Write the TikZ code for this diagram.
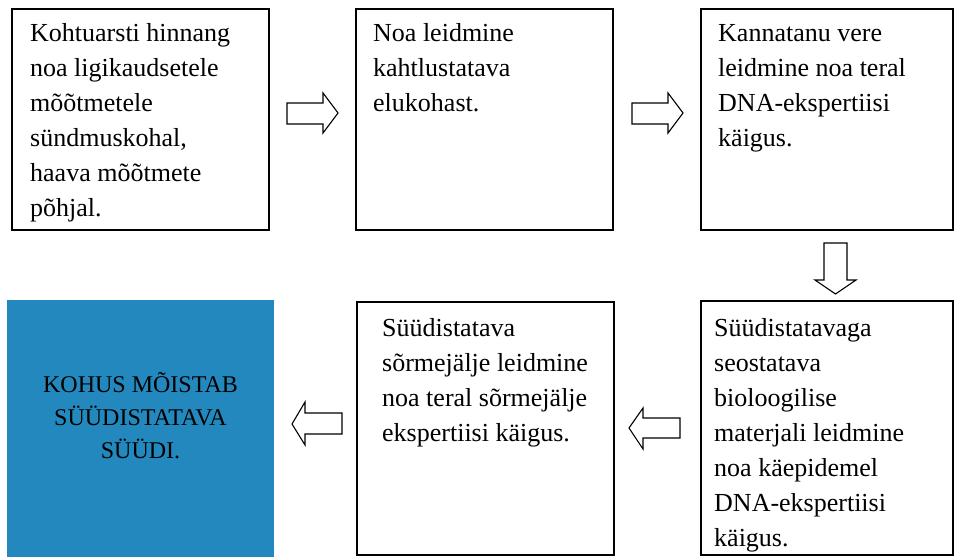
\documentclass[tikz,border=0pt]{standalone}
\usepackage{fontspec}
\setmainfont{Liberation Serif}
\definecolor{verdictblue}{RGB}{35,136,190}
\begin{document}
\begin{tikzpicture}[x=1pt,y=-1pt,
  stepbox/.style={draw=black, line width=1.3pt, inner sep=0pt, outer sep=0pt, anchor=north west},
  steptext/.style={anchor=north west, inner sep=0pt, align=left,
    font=\fontsize{26}{35}\selectfont},
  verdictbox/.style={fill=verdictblue, draw=none, inner sep=0pt, anchor=north west},
  verdicttext/.style={inner sep=0pt, align=center, text=black,
    font=\fontsize{24}{33}\selectfont},
  blockarrow/.style={draw=black, line width=1.1pt, fill=white, line join=miter}]
\useasboundingbox (0,0) rectangle (956,557);
\newcommand{\firstline}{\rule{0pt}{18pt}}

% step boxes, upper row
\node[stepbox, minimum width=257pt, minimum height=221pt] (b1) at (12,9) {};
\node[stepbox, minimum width=257pt, minimum height=221pt] (b2) at (356,9) {};
\node[stepbox, minimum width=252pt, minimum height=221pt] (b3) at (701,9) {};
% step boxes, lower row
\node[stepbox, minimum width=252pt, minimum height=254pt] (b4) at (701,301) {};
\node[stepbox, minimum width=257pt, minimum height=253pt] (b5) at (357,302) {};
\node[verdictbox, minimum width=267pt, minimum height=257pt] (b6) at (7,300) {};

% texts
\node[steptext] (t1) at (30,23) {\firstline Kohtuarsti hinnang\\noa ligikaudsetele\\mõõtmetele\\sündmuskohal,\\haava mõõtmete\\põhjal.};
\node[steptext] (t2) at (373,23) {\firstline Noa leidmine\\kahtlustatava\\elukohast.};
\node[steptext] (t3) at (718,23) {\firstline Kannatanu vere\\leidmine noa teral\\DNA-ekspertiisi\\käigus.};
\node[steptext] (t4) at (714,318) {\firstline Süüdistatavaga\\seostatava\\bioloogilise\\materjali leidmine\\noa käepidemel\\DNA-ekspertiisi\\käigus.};
\node[steptext] (t5) at (382,318) {\firstline Süüdistatava\\sõrmejälje leidmine\\noa teral sõrmejälje\\ekspertiisi käigus.};
\node[verdicttext] (t6) at (140.5,416) {KOHUS MÕISTAB\\SÜÜDISTATAVA\\SÜÜDI.};

% block arrows between the steps
\draw[blockarrow] (287,103) -- (323,103) -- (323,93) -- (338,113) -- (323,133) -- (323,124) -- (287,124) -- cycle;
\draw[blockarrow] (632,103) -- (668,103) -- (668,93) -- (683,113) -- (668,133) -- (668,124) -- (632,124) -- cycle;
\draw[blockarrow] (824,243) -- (847,243) -- (847,280) -- (856,280) -- (835.5,294) -- (815,280) -- (824,280) -- cycle;
\draw[blockarrow] (680,418) -- (643,418) -- (643,408) -- (629,428) -- (643,449) -- (643,438) -- (680,438) -- cycle;
\draw[blockarrow] (342,413) -- (305,413) -- (305,402) -- (292,424) -- (305,445) -- (305,434) -- (342,434) -- cycle;
\end{tikzpicture}
\end{document}
